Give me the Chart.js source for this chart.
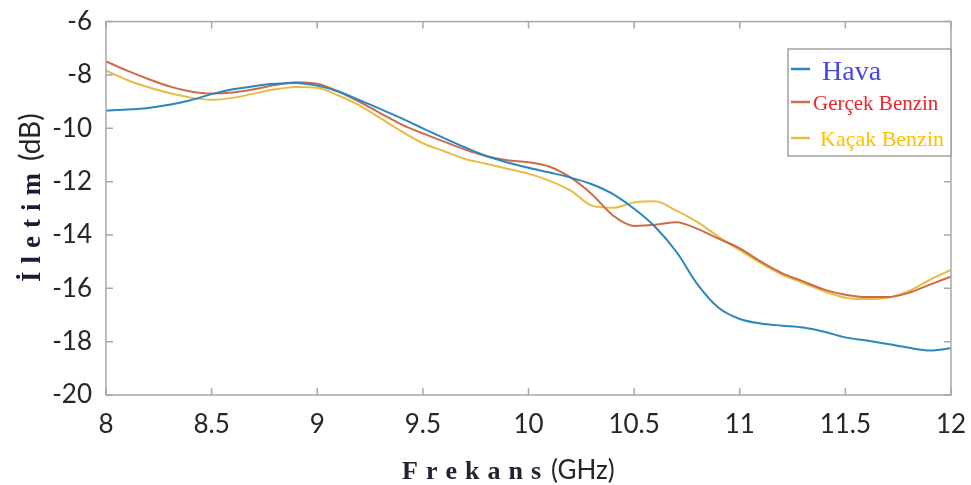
<!DOCTYPE html>
<html>
<head>
<meta charset="utf-8">
<script src="https://cdn.jsdelivr.net/npm/chart.js@4.4.1/dist/chart.umd.min.js"></script>
<style>
  html, body { margin: 0; padding: 0; background: #fff; }
  #wrap { width: 971px; height: 485px; position: relative; }
</style>
</head>
<body>
<div id="wrap"><canvas id="chart" width="971" height="485"></canvas></div>
<script>
// frequency axis (GHz) and the three measured curves (dB)
const freq = [8.0, 8.1, 8.2, 8.3, 8.4, 8.5, 8.6, 8.7, 8.8, 8.9,
              9.0, 9.1, 9.2, 9.3, 9.4, 9.5, 9.6, 9.7, 9.8, 9.9,
              10.0, 10.1, 10.2, 10.3, 10.4, 10.5, 10.6, 10.7, 10.8, 10.9,
              11.0, 11.1, 11.2, 11.3, 11.4, 11.5, 11.6, 11.7, 11.8, 11.9, 12.0];

const hava = [-9.33, -9.30, -9.24, -9.12, -8.95, -8.72, -8.54, -8.42, -8.33, -8.30,
              -8.40, -8.62, -8.95, -9.28, -9.63, -10.00, -10.37, -10.72, -11.04, -11.28,
              -11.48, -11.66, -11.85, -12.10, -12.47, -13.02, -13.70, -14.63, -15.85, -16.73,
              -17.15, -17.32, -17.40, -17.47, -17.63, -17.84, -17.96, -18.09, -18.23, -18.33, -18.25];

const gercekBenzin = [-7.49, -7.84, -8.15, -8.43, -8.62, -8.70, -8.66, -8.54, -8.38, -8.27,
                      -8.33, -8.62, -9.01, -9.44, -9.86, -10.19, -10.50, -10.80, -11.05, -11.20,
                      -11.27, -11.44, -11.85, -12.47, -13.27, -13.66, -13.62, -13.52, -13.77, -14.14,
                      -14.50, -15.00, -15.43, -15.74, -16.05, -16.24, -16.33, -16.33, -16.17, -15.86, -15.56];

const kacakBenzin = [-7.84, -8.19, -8.46, -8.68, -8.85, -8.93, -8.86, -8.70, -8.54, -8.45,
                     -8.48, -8.77, -9.14, -9.63, -10.12, -10.56, -10.86, -11.15, -11.33, -11.52,
                     -11.70, -11.97, -12.34, -12.90, -12.98, -12.78, -12.74, -13.09, -13.52, -14.07,
                     -14.57, -15.06, -15.49, -15.80, -16.11, -16.35, -16.40, -16.35, -16.11, -15.68, -15.31];

const seriesNames = ['Hava', 'Gerçek Benzin', 'Kaçak Benzin'];
const lineColors = ['#2a86c0', '#cd6b48', '#e6bc45'];
const legendTextColors = ['#4848dc', '#e8262f', '#ffbf00'];

const xTicks = [8, 8.5, 9, 9.5, 10, 10.5, 11, 11.5, 12];
const yTicks = [-20, -18, -16, -14, -12, -10, -8, -6];

const toPoints = (ys) => ys.map((y, i) => ({ x: freq[i], y: y }));

// box around the axes with MATLAB-like inner ticks
const boxPlugin = {
    id: 'box',
    afterDatasetsDraw(chart) {
        const { ctx, chartArea: a, scales } = chart;
        ctx.save();
        ctx.strokeStyle = '#a8a8a8';
        ctx.lineWidth = 1.5;
        ctx.strokeRect(a.left, a.top, a.right - a.left, a.bottom - a.top);
        const len = 7;
        ctx.beginPath();
        for (const v of xTicks) {
            const px = scales.x.getPixelForValue(v);
            ctx.moveTo(px, a.bottom); ctx.lineTo(px, a.bottom - len);
            ctx.moveTo(px, a.top); ctx.lineTo(px, a.top + len);
        }
        for (const v of yTicks) {
            const py = scales.y.getPixelForValue(v);
            ctx.moveTo(a.left, py); ctx.lineTo(a.left + len, py);
            ctx.moveTo(a.right, py); ctx.lineTo(a.right - len, py);
        }
        ctx.stroke();
        ctx.restore();
    }
};

// legend box with mixed font sizes and colours
const legendPlugin = {
    id: 'legendBox',
    afterDraw(chart) {
        const { ctx, chartArea: a } = chart;
        const left = 788, top = 49, bottom = 156;
        ctx.save();
        ctx.fillStyle = '#fff';
        ctx.fillRect(left, top, a.right - left, bottom - top);
        ctx.strokeStyle = '#a0a0a0';
        ctx.lineWidth = 1.5;
        ctx.strokeRect(left, top, a.right - left, bottom - top);

        const rows = [
            { y: 69, font: '28px "Liberation Serif"', tx: 822, base: 80 },
            { y: 102, font: '21px "Liberation Serif"', tx: 813, base: 110 },
            { y: 138, font: '22px "Liberation Serif"', tx: 820, base: 146 }
        ];
        rows.forEach((r, i) => {
            ctx.strokeStyle = lineColors[i];
            ctx.lineWidth = 2.5;
            ctx.beginPath();
            ctx.moveTo(791, r.y); ctx.lineTo(810, r.y);
            ctx.stroke();
            ctx.font = r.font;
            ctx.fillStyle = legendTextColors[i];
            ctx.textBaseline = 'alphabetic';
            ctx.fillText(seriesNames[i], r.tx, r.base);
        });
        ctx.restore();
    }
};

// spaced serif word followed by a sans unit, like the original axis labels
function drawSpaced(ctx, word, x, y, gap) {
    for (const ch of word) {
        ctx.fillText(ch, x, y);
        x += ctx.measureText(ch).width + gap;
    }
    return x;
}

const titlesPlugin = {
    id: 'titles',
    afterDraw(chart) {
        const ctx = chart.ctx;
        ctx.save();
        ctx.fillStyle = '#262030';
        ctx.textBaseline = 'alphabetic';

        // x title
        ctx.font = 'bold 26px "Liberation Serif"';
        let x = drawSpaced(ctx, 'Frekans', 402, 479, 8);
        ctx.font = '26px Lato';
        ctx.fillStyle = '#262626';
        ctx.fillText('(GHz)', x + 2, 479);

        // y title, rotated
        ctx.translate(40, 282);
        ctx.rotate(-Math.PI / 2);
        ctx.fillStyle = '#1e1a36';
        ctx.font = 'bold 27px "Liberation Serif"';
        x = drawSpaced(ctx, 'İletim', 0, 0, 8);
        ctx.font = '28px Lato';
        ctx.fillStyle = '#262626';
        ctx.fillText('(dB)', x + 4, 0);
        ctx.restore();
    }
};

new Chart(document.getElementById('chart'), {
    type: 'line',
    data: {
        datasets: [
            { label: seriesNames[0], data: toPoints(hava), borderColor: lineColors[0] },
            { label: seriesNames[1], data: toPoints(gercekBenzin), borderColor: lineColors[1] },
            { label: seriesNames[2], data: toPoints(kacakBenzin), borderColor: lineColors[2] }
        ]
    },
    options: {
        responsive: false,
        animation: false,
        layout: { padding: { top: 17, right: 20, bottom: 0, left: 0 } },
        elements: {
            point: { radius: 0 },
            line: { borderWidth: 2, cubicInterpolationMode: 'monotone' }
        },
        plugins: {
            legend: { display: false },
            tooltip: { enabled: false }
        },
        scales: {
            x: {
                type: 'linear',
                min: 8,
                max: 12,
                afterBuildTicks: (s) => { s.ticks = xTicks.map(v => ({ value: v })); },
                afterFit: (s) => { s.height = 90; s.paddingRight = 0; s.paddingLeft = 0; },
                grid: { display: false },
                border: { display: false },
                ticks: {
                    color: '#262626',
                    font: { family: 'Lato', size: 26 },
                    padding: 6,
                    maxRotation: 0,
                    callback: (v) => String(v)
                }
            },
            y: {
                min: -20,
                max: -6,
                afterBuildTicks: (s) => { s.ticks = yTicks.map(v => ({ value: v })); },
                afterFit: (s) => { s.width = 106; },
                grid: { display: false },
                border: { display: false },
                ticks: {
                    color: '#262626',
                    font: { family: 'Lato', size: 26 },
                    padding: 6,
                    callback: (v) => String(v)
                }
            }
        }
    },
    plugins: [boxPlugin, legendPlugin, titlesPlugin]
});
</script>
</body>
</html>
